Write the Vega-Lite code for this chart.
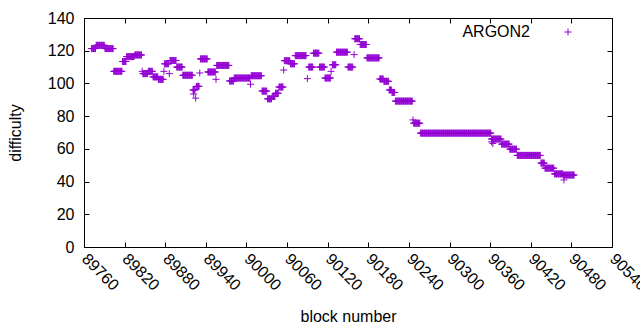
{
"$schema":"https://vega.github.io/schema/vega-lite/v6.json",
"width":528,"height":229,
"autosize":{"type":"none"},
"padding":{"left":84,"top":18,"right":28,"bottom":83},
"background":"white",
"config":{"view":{"stroke":"black","strokeWidth":1},"font":"Liberation Sans",
"axis":{"labelFontSize":16,"labelColor":"black","titleFontSize":16,"titleFontWeight":"normal","titleColor":"black","tickColor":"black","tickSize":-5,"domain":false,"grid":false,"labelFlush":false,"labelOverlap":false}},
"data":{"values":[
{"b":89771,"d":121.3},{"b":89772,"d":121.3},{"b":89773,"d":121.3},{"b":89774,"d":121.3},{"b":89775,"d":121.3},{"b":89776,"d":121.3},{"b":89777,"d":121.3},
{"b":89778,"d":123.3},{"b":89779,"d":123.3},{"b":89780,"d":123.3},{"b":89781,"d":123.3},{"b":89782,"d":123.3},{"b":89783,"d":123.3},{"b":89784,"d":123.3},{"b":89785,"d":123.3},{"b":89786,"d":123.3},{"b":89787,"d":123.3},{"b":89788,"d":123.3},{"b":89789,"d":123.3},{"b":89790,"d":123.3},
{"b":89791,"d":121.3},{"b":89792,"d":121.3},{"b":89793,"d":121.3},{"b":89794,"d":121.3},{"b":89795,"d":121.3},{"b":89796,"d":121.3},{"b":89797,"d":121.3},{"b":89798,"d":121.3},{"b":89799,"d":121.3},{"b":89800,"d":121.3},{"b":89801,"d":121.3},{"b":89802,"d":121.3},{"b":89803,"d":121.3},
{"b":89804,"d":107.4},{"b":89805,"d":107.4},{"b":89806,"d":107.4},{"b":89807,"d":107.4},{"b":89808,"d":107.4},{"b":89809,"d":107.4},{"b":89810,"d":107.4},{"b":89811,"d":107.4},{"b":89812,"d":107.4},{"b":89813,"d":107.4},{"b":89814,"d":107.4},{"b":89815,"d":107.4},{"b":89816,"d":107.4},
{"b":89817,"d":113.4},{"b":89818,"d":113.4},{"b":89819,"d":113.4},{"b":89820,"d":113.4},{"b":89821,"d":113.4},{"b":89822,"d":113.4},
{"b":89823,"d":116.4},{"b":89824,"d":116.4},{"b":89825,"d":116.4},{"b":89826,"d":116.4},{"b":89827,"d":116.4},{"b":89828,"d":116.4},{"b":89829,"d":116.4},{"b":89830,"d":116.4},{"b":89831,"d":116.4},{"b":89832,"d":116.4},{"b":89833,"d":116.4},{"b":89834,"d":116.4},
{"b":89835,"d":117.4},{"b":89836,"d":117.4},{"b":89837,"d":117.4},{"b":89838,"d":117.4},{"b":89839,"d":117.4},{"b":89840,"d":117.4},{"b":89841,"d":117.4},{"b":89842,"d":117.4},{"b":89843,"d":117.4},{"b":89844,"d":117.4},{"b":89845,"d":117.4},
{"b":89846,"d":107.4},
{"b":89847,"d":106},{"b":89848,"d":106},{"b":89849,"d":106},{"b":89850,"d":106},{"b":89851,"d":106},{"b":89852,"d":106},{"b":89853,"d":106},{"b":89854,"d":106},
{"b":89855,"d":107.4},{"b":89856,"d":107.4},{"b":89857,"d":107.4},{"b":89858,"d":107.4},{"b":89859,"d":107.4},{"b":89860,"d":107.4},{"b":89861,"d":107.4},
{"b":89862,"d":104},{"b":89863,"d":104},{"b":89864,"d":104},{"b":89865,"d":104},{"b":89866,"d":104},{"b":89867,"d":104},{"b":89868,"d":104},{"b":89869,"d":104},
{"b":89870,"d":102.5},{"b":89871,"d":102.5},{"b":89872,"d":102.5},{"b":89873,"d":102.5},{"b":89874,"d":102.5},{"b":89875,"d":102.5},{"b":89876,"d":102.5},{"b":89877,"d":102.5},
{"b":89878,"d":107.4},
{"b":89879,"d":112},{"b":89880,"d":112},{"b":89881,"d":112},{"b":89882,"d":112},{"b":89883,"d":112},{"b":89884,"d":112},{"b":89885,"d":112},
{"b":89886,"d":106},
{"b":89887,"d":114},{"b":89888,"d":114},{"b":89889,"d":114},{"b":89890,"d":114},{"b":89891,"d":114},{"b":89892,"d":114},{"b":89893,"d":114},{"b":89894,"d":114},{"b":89895,"d":114},{"b":89896,"d":114},
{"b":89897,"d":110},{"b":89898,"d":110},{"b":89899,"d":110},{"b":89900,"d":110},{"b":89901,"d":110},{"b":89902,"d":110},{"b":89903,"d":110},{"b":89904,"d":110},{"b":89905,"d":110},
{"b":89906,"d":105},{"b":89907,"d":105},{"b":89908,"d":105},{"b":89909,"d":105},{"b":89910,"d":105},{"b":89911,"d":105},{"b":89912,"d":105},{"b":89913,"d":105},{"b":89914,"d":105},{"b":89915,"d":105},{"b":89916,"d":105},{"b":89917,"d":105},{"b":89918,"d":105},{"b":89919,"d":105},{"b":89920,"d":105},
{"b":89921,"d":96},{"b":89922,"d":96},{"b":89923,"d":96},{"b":89924,"d":96},{"b":89922,"d":93.5},{"b":89925,"d":91},
{"b":89926,"d":98.2},{"b":89927,"d":98.2},{"b":89928,"d":98.2},{"b":89929,"d":98.2},{"b":89930,"d":98.2},
{"b":89931,"d":106.4},
{"b":89932,"d":115},{"b":89933,"d":115},{"b":89934,"d":115},{"b":89935,"d":115},{"b":89936,"d":115},{"b":89937,"d":115},{"b":89938,"d":115},{"b":89939,"d":115},{"b":89940,"d":115},{"b":89941,"d":115},{"b":89942,"d":115},
{"b":89943,"d":107},{"b":89944,"d":107},{"b":89945,"d":107},{"b":89946,"d":107},{"b":89947,"d":107},{"b":89948,"d":107},{"b":89949,"d":107},{"b":89950,"d":107},{"b":89951,"d":107},{"b":89952,"d":107},{"b":89953,"d":107},{"b":89954,"d":107},
{"b":89955,"d":102.5},
{"b":89956,"d":111},{"b":89957,"d":111},{"b":89958,"d":111},{"b":89959,"d":111},{"b":89960,"d":111},{"b":89961,"d":111},{"b":89962,"d":111},{"b":89963,"d":111},{"b":89964,"d":111},{"b":89965,"d":111},{"b":89966,"d":111},{"b":89967,"d":111},{"b":89968,"d":111},{"b":89969,"d":111},{"b":89970,"d":111},{"b":89971,"d":111},{"b":89972,"d":111},{"b":89973,"d":111},{"b":89974,"d":111},
{"b":89975,"d":101.5},{"b":89976,"d":101.5},{"b":89977,"d":101.5},{"b":89978,"d":101.5},{"b":89979,"d":101.5},{"b":89980,"d":101.5},{"b":89981,"d":101.5},
{"b":89982,"d":103.3},{"b":89983,"d":103.3},{"b":89984,"d":103.3},{"b":89985,"d":103.3},{"b":89986,"d":103.3},{"b":89987,"d":103.3},{"b":89988,"d":103.3},{"b":89989,"d":103.3},{"b":89990,"d":103.3},{"b":89991,"d":103.3},{"b":89992,"d":103.3},{"b":89993,"d":103.3},{"b":89994,"d":103.3},{"b":89995,"d":103.3},{"b":89996,"d":103.3},{"b":89997,"d":103.3},{"b":89998,"d":103.3},{"b":89999,"d":103.3},{"b":90000,"d":103.3},{"b":90001,"d":103.3},{"b":90002,"d":103.3},{"b":90003,"d":103.3},{"b":90004,"d":103.3},{"b":90005,"d":103.3},
{"b":90006,"d":99.5},
{"b":90007,"d":104.7},{"b":90008,"d":104.7},{"b":90009,"d":104.7},{"b":90010,"d":104.7},{"b":90011,"d":104.7},{"b":90012,"d":104.7},{"b":90013,"d":104.7},{"b":90014,"d":104.7},{"b":90015,"d":104.7},{"b":90016,"d":104.7},{"b":90017,"d":104.7},{"b":90018,"d":104.7},{"b":90019,"d":104.7},{"b":90020,"d":104.7},{"b":90021,"d":104.7},{"b":90022,"d":104.7},
{"b":90023,"d":95.3},{"b":90024,"d":95.3},{"b":90025,"d":95.3},{"b":90026,"d":95.3},{"b":90027,"d":95.3},{"b":90028,"d":95.3},{"b":90029,"d":95.3},{"b":90030,"d":95.3},
{"b":90031,"d":90.6},{"b":90032,"d":90.6},{"b":90033,"d":90.6},{"b":90034,"d":90.6},{"b":90035,"d":90.6},{"b":90036,"d":90.6},{"b":90037,"d":90.6},
{"b":90038,"d":92},{"b":90039,"d":92},{"b":90040,"d":92},{"b":90041,"d":92},{"b":90042,"d":92},
{"b":90043,"d":94},{"b":90044,"d":94},{"b":90045,"d":94},{"b":90046,"d":94},{"b":90047,"d":94},
{"b":90048,"d":97.8},{"b":90049,"d":97.8},{"b":90050,"d":97.8},{"b":90051,"d":97.8},{"b":90052,"d":97.8},{"b":90053,"d":97.8},{"b":90054,"d":97.8},
{"b":90055,"d":108.2},
{"b":90056,"d":113.9},{"b":90057,"d":113.9},{"b":90058,"d":113.9},{"b":90059,"d":113.9},{"b":90060,"d":113.9},{"b":90061,"d":113.9},{"b":90062,"d":113.9},{"b":90063,"d":113.9},{"b":90064,"d":113.9},
{"b":90065,"d":112},{"b":90066,"d":112},{"b":90067,"d":112},{"b":90068,"d":112},{"b":90069,"d":112},{"b":90070,"d":112},{"b":90071,"d":112},
{"b":90072,"d":117},{"b":90073,"d":117},{"b":90074,"d":117},{"b":90075,"d":117},{"b":90076,"d":117},{"b":90077,"d":117},{"b":90078,"d":117},{"b":90079,"d":117},{"b":90080,"d":117},{"b":90081,"d":117},{"b":90082,"d":117},{"b":90083,"d":117},{"b":90084,"d":117},{"b":90085,"d":117},{"b":90086,"d":117},{"b":90087,"d":117},{"b":90088,"d":117},
{"b":90090,"d":102.9},
{"b":90092,"d":110},{"b":90093,"d":110},{"b":90094,"d":110},{"b":90095,"d":110},{"b":90096,"d":110},{"b":90097,"d":110},{"b":90098,"d":110},
{"b":90099,"d":118.5},{"b":90100,"d":118.5},{"b":90101,"d":118.5},{"b":90102,"d":118.5},{"b":90103,"d":118.5},{"b":90104,"d":118.5},{"b":90105,"d":118.5},{"b":90106,"d":118.5},{"b":90107,"d":118.5},
{"b":90108,"d":110},{"b":90109,"d":110},{"b":90110,"d":110},{"b":90111,"d":110},{"b":90112,"d":110},{"b":90113,"d":110},{"b":90114,"d":110},{"b":90115,"d":110},
{"b":90116,"d":103.3},{"b":90117,"d":103.3},{"b":90118,"d":103.3},{"b":90119,"d":103.3},{"b":90120,"d":103.3},{"b":90121,"d":103.3},{"b":90122,"d":103.3},{"b":90123,"d":103.3},{"b":90124,"d":103.3},
{"b":90125,"d":107.4},
{"b":90127,"d":111.4},{"b":90128,"d":111.4},{"b":90129,"d":111.4},{"b":90130,"d":111.4},{"b":90131,"d":111.4},{"b":90132,"d":111.4},
{"b":90133,"d":119.1},{"b":90134,"d":119.1},{"b":90135,"d":119.1},{"b":90136,"d":119.1},{"b":90137,"d":119.1},{"b":90138,"d":119.1},{"b":90139,"d":119.1},{"b":90140,"d":119.1},{"b":90141,"d":119.1},{"b":90142,"d":119.1},{"b":90143,"d":119.1},{"b":90144,"d":119.1},{"b":90145,"d":119.1},{"b":90146,"d":119.1},{"b":90147,"d":119.1},{"b":90148,"d":119.1},{"b":90149,"d":119.1},
{"b":90150,"d":110},{"b":90151,"d":110},{"b":90152,"d":110},{"b":90153,"d":110},{"b":90154,"d":110},{"b":90155,"d":110},{"b":90156,"d":110},{"b":90157,"d":110},
{"b":90159,"d":117.6},
{"b":90160,"d":127.3},{"b":90161,"d":127.3},{"b":90162,"d":127.3},{"b":90163,"d":127.3},{"b":90164,"d":127.3},{"b":90165,"d":127.3},{"b":90166,"d":127.3},{"b":90167,"d":127.3},
{"b":90168,"d":123.8},{"b":90169,"d":123.8},{"b":90170,"d":123.8},{"b":90171,"d":123.8},{"b":90172,"d":123.8},{"b":90173,"d":123.8},{"b":90174,"d":123.8},{"b":90175,"d":123.8},{"b":90176,"d":123.8},{"b":90177,"d":123.8},
{"b":90178,"d":115.6},{"b":90179,"d":115.6},{"b":90180,"d":115.6},{"b":90181,"d":115.6},{"b":90182,"d":115.6},{"b":90183,"d":115.6},{"b":90184,"d":115.6},{"b":90185,"d":115.6},{"b":90186,"d":115.6},{"b":90187,"d":115.6},{"b":90188,"d":115.6},{"b":90189,"d":115.6},{"b":90190,"d":115.6},{"b":90191,"d":115.6},{"b":90192,"d":115.6},{"b":90193,"d":115.6},{"b":90194,"d":115.6},{"b":90195,"d":115.6},{"b":90196,"d":115.6},
{"b":90197,"d":102.7},{"b":90198,"d":102.7},{"b":90199,"d":102.7},{"b":90200,"d":102.7},{"b":90201,"d":102.7},{"b":90202,"d":102.7},
{"b":90203,"d":101.3},{"b":90204,"d":101.3},{"b":90205,"d":101.3},{"b":90206,"d":101.3},{"b":90207,"d":101.3},{"b":90208,"d":101.3},{"b":90209,"d":101.3},{"b":90210,"d":101.3},
{"b":90211,"d":96},{"b":90212,"d":96},{"b":90213,"d":96},{"b":90214,"d":96},
{"b":90215,"d":94.5},{"b":90216,"d":94.5},{"b":90217,"d":94.5},{"b":90218,"d":94.5},{"b":90219,"d":94.5},
{"b":90220,"d":89.2},{"b":90221,"d":89.2},{"b":90222,"d":89.2},{"b":90223,"d":89.2},{"b":90224,"d":89.2},{"b":90225,"d":89.2},{"b":90226,"d":89.2},{"b":90227,"d":89.2},{"b":90228,"d":89.2},{"b":90229,"d":89.2},{"b":90230,"d":89.2},{"b":90231,"d":89.2},{"b":90232,"d":89.2},{"b":90233,"d":89.2},{"b":90234,"d":89.2},{"b":90235,"d":89.2},{"b":90236,"d":89.2},{"b":90237,"d":89.2},{"b":90238,"d":89.2},{"b":90239,"d":89.2},{"b":90240,"d":89.2},{"b":90241,"d":89.2},{"b":90242,"d":89.2},{"b":90243,"d":89.2},{"b":90244,"d":89.2},{"b":90245,"d":89.2},
{"b":90246,"d":77.7},
{"b":90247,"d":75.7},{"b":90248,"d":75.7},{"b":90249,"d":75.7},{"b":90250,"d":75.7},{"b":90251,"d":75.7},{"b":90252,"d":75.7},{"b":90253,"d":75.7},{"b":90254,"d":75.7},{"b":90255,"d":75.7},{"b":90256,"d":75.7},
{"b":90257,"d":69.6},{"b":90258,"d":69.6},{"b":90259,"d":69.6},{"b":90260,"d":69.6},{"b":90261,"d":69.6},{"b":90262,"d":69.6},{"b":90263,"d":69.6},{"b":90264,"d":69.6},{"b":90265,"d":69.6},{"b":90266,"d":69.6},{"b":90267,"d":69.6},{"b":90268,"d":69.6},{"b":90269,"d":69.6},{"b":90270,"d":69.6},{"b":90271,"d":69.6},{"b":90272,"d":69.6},{"b":90273,"d":69.6},{"b":90274,"d":69.6},{"b":90275,"d":69.6},{"b":90276,"d":69.6},{"b":90277,"d":69.6},{"b":90278,"d":69.6},{"b":90279,"d":69.6},{"b":90280,"d":69.6},{"b":90281,"d":69.6},{"b":90282,"d":69.6},{"b":90283,"d":69.6},{"b":90284,"d":69.6},{"b":90285,"d":69.6},{"b":90286,"d":69.6},{"b":90287,"d":69.6},{"b":90288,"d":69.6},{"b":90289,"d":69.6},{"b":90290,"d":69.6},{"b":90291,"d":69.6},{"b":90292,"d":69.6},{"b":90293,"d":69.6},{"b":90294,"d":69.6},{"b":90295,"d":69.6},{"b":90296,"d":69.6},{"b":90297,"d":69.6},{"b":90298,"d":69.6},{"b":90299,"d":69.6},{"b":90300,"d":69.6},{"b":90301,"d":69.6},{"b":90302,"d":69.6},{"b":90303,"d":69.6},{"b":90304,"d":69.6},{"b":90305,"d":69.6},{"b":90306,"d":69.6},{"b":90307,"d":69.6},{"b":90308,"d":69.6},{"b":90309,"d":69.6},{"b":90310,"d":69.6},{"b":90311,"d":69.6},{"b":90312,"d":69.6},{"b":90313,"d":69.6},{"b":90314,"d":69.6},{"b":90315,"d":69.6},{"b":90316,"d":69.6},{"b":90317,"d":69.6},{"b":90318,"d":69.6},{"b":90319,"d":69.6},{"b":90320,"d":69.6},{"b":90321,"d":69.6},{"b":90322,"d":69.6},{"b":90323,"d":69.6},{"b":90324,"d":69.6},{"b":90325,"d":69.6},{"b":90326,"d":69.6},{"b":90327,"d":69.6},{"b":90328,"d":69.6},{"b":90329,"d":69.6},{"b":90330,"d":69.6},{"b":90331,"d":69.6},{"b":90332,"d":69.6},{"b":90333,"d":69.6},{"b":90334,"d":69.6},{"b":90335,"d":69.6},{"b":90336,"d":69.6},{"b":90337,"d":69.6},{"b":90338,"d":69.6},{"b":90339,"d":69.6},{"b":90340,"d":69.6},{"b":90341,"d":69.6},{"b":90342,"d":69.6},{"b":90343,"d":69.6},{"b":90344,"d":69.6},{"b":90345,"d":69.6},{"b":90346,"d":69.6},{"b":90347,"d":69.6},{"b":90348,"d":69.6},{"b":90349,"d":69.6},{"b":90350,"d":69.6},{"b":90351,"d":69.6},{"b":90352,"d":69.6},{"b":90353,"d":69.6},{"b":90354,"d":69.6},{"b":90355,"d":69.6},{"b":90356,"d":69.6},{"b":90357,"d":69.6},{"b":90358,"d":69.6},{"b":90359,"d":69.6},{"b":90360,"d":69.6},{"b":90361,"d":69.6},
{"b":90362,"d":66},{"b":90363,"d":66},{"b":90364,"d":66},{"b":90365,"d":66},{"b":90366,"d":66},{"b":90367,"d":66},{"b":90368,"d":66},{"b":90369,"d":66},{"b":90370,"d":66},{"b":90371,"d":66},{"b":90372,"d":66},{"b":90373,"d":66},{"b":90374,"d":66},{"b":90375,"d":66},{"b":90376,"d":66},{"b":90362,"d":64.3},{"b":90364,"d":63.3},
{"b":90377,"d":62.9},{"b":90378,"d":62.9},{"b":90379,"d":62.9},{"b":90380,"d":62.9},{"b":90381,"d":62.9},{"b":90382,"d":62.9},{"b":90383,"d":62.9},{"b":90384,"d":62.9},{"b":90385,"d":62.9},{"b":90386,"d":62.9},{"b":90387,"d":62.9},{"b":90388,"d":62.9},
{"b":90389,"d":59.8},{"b":90390,"d":59.8},{"b":90391,"d":59.8},{"b":90392,"d":59.8},{"b":90393,"d":59.8},{"b":90394,"d":59.8},{"b":90395,"d":59.8},{"b":90396,"d":59.8},{"b":90397,"d":59.8},{"b":90398,"d":59.8},{"b":90399,"d":59.8},
{"b":90400,"d":56},{"b":90401,"d":56},{"b":90402,"d":56},{"b":90403,"d":56},{"b":90404,"d":56},{"b":90405,"d":56},{"b":90406,"d":56},{"b":90407,"d":56},{"b":90408,"d":56},{"b":90409,"d":56},{"b":90410,"d":56},{"b":90411,"d":56},{"b":90412,"d":56},{"b":90413,"d":56},{"b":90414,"d":56},{"b":90415,"d":56},{"b":90416,"d":56},{"b":90417,"d":56},{"b":90418,"d":56},{"b":90419,"d":56},{"b":90420,"d":56},{"b":90421,"d":56},{"b":90422,"d":56},{"b":90423,"d":56},{"b":90424,"d":56},{"b":90425,"d":56},{"b":90426,"d":56},{"b":90427,"d":56},{"b":90428,"d":56},{"b":90429,"d":56},{"b":90430,"d":56},{"b":90431,"d":56},{"b":90432,"d":56},{"b":90433,"d":56},{"b":90434,"d":56},
{"b":90435,"d":51.3},{"b":90436,"d":51.3},{"b":90437,"d":51.3},{"b":90438,"d":51.3},{"b":90439,"d":51.3},{"b":90440,"d":51.3},
{"b":90441,"d":48.2},{"b":90442,"d":48.2},{"b":90443,"d":48.2},{"b":90444,"d":48.2},{"b":90445,"d":48.2},{"b":90446,"d":48.2},{"b":90447,"d":48.2},{"b":90448,"d":48.2},{"b":90449,"d":48.2},{"b":90450,"d":48.2},{"b":90451,"d":48.2},{"b":90452,"d":48.2},{"b":90453,"d":48.2},{"b":90454,"d":48.2},
{"b":90455,"d":44.7},{"b":90456,"d":44.7},{"b":90457,"d":44.7},{"b":90458,"d":44.7},{"b":90459,"d":44.7},{"b":90460,"d":44.7},{"b":90461,"d":44.7},{"b":90462,"d":44.7},{"b":90463,"d":44.7},{"b":90464,"d":44.7},{"b":90465,"d":44.7},{"b":90466,"d":44.7},{"b":90467,"d":44.7},
{"b":90468,"d":44},{"b":90469,"d":44},{"b":90470,"d":44},{"b":90471,"d":44},{"b":90472,"d":44},{"b":90473,"d":44},{"b":90474,"d":44},{"b":90475,"d":44},{"b":90476,"d":44},{"b":90477,"d":44},{"b":90478,"d":44},{"b":90479,"d":44},{"b":90480,"d":44},{"b":90481,"d":44},{"b":90482,"d":44},{"b":90483,"d":44},{"b":90484,"d":44},{"b":90469,"d":41}
]},
"layer":[
{"mark":{"type":"point","shape":"M-1,0H1M0,-1V1","filled":false,"strokeWidth":1,"size":49,"opacity":1},
"encoding":{
"x":{"field":"b","type":"quantitative","scale":{"domain":[89760,90540],"nice":false,"zero":false},
"axis":{"values":[89760,89820,89880,89940,90000,90060,90120,90180,90240,90300,90360,90420,90480,90540],"format":"d","labelAngle":45,"labelAlign":"left","labelBaseline":"middle","labelPadding":14,"title":"block number","titlePadding":15}},
"y":{"field":"d","type":"quantitative","scale":{"domain":[0,140],"nice":false},
"axis":{"values":[0,20,40,60,80,100,120,140],"labelPadding":15,"title":"difficulty","titlePadding":24}},
"color":{"datum":"ARGON2","type":"nominal","scale":{"range":["#9400d3"]},
"legend":{"title":null,"orient":"none","legendX":476,"legendY":6,"symbolType":"M-1,0H1M0,-1V1","symbolSize":49,"symbolStrokeWidth":1,"symbolFillColor":"transparent","labelFontSize":16,"labelColor":"black","labelAlign":"right","labelOffset":-46,"padding":0}}}},
{"mark":{"type":"point","opacity":0},
"encoding":{
"x":{"field":"b","type":"quantitative","scale":{"domain":[89760,90540],"nice":false,"zero":false},
"axis":{"orient":"top","values":[89760,89820,89880,89940,90000,90060,90120,90180,90240,90300,90360,90420,90480,90540],"labels":false,"title":null}},
"y":{"field":"d","type":"quantitative","scale":{"domain":[0,140],"nice":false},
"axis":{"orient":"right","values":[0,20,40,60,80,100,120,140],"labels":false,"title":null}}}}
],
"resolve":{"axis":{"x":"independent","y":"independent"}}
}
